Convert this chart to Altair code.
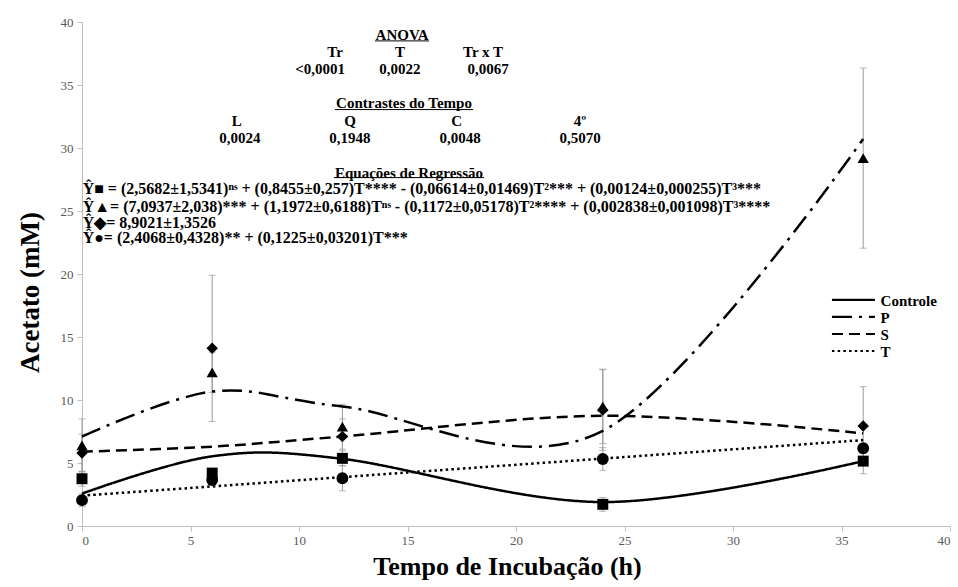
import altair as alt
import pandas as pd

# ---------------- data ----------------
times = [0, 6, 12, 24, 36]
series = ["Controle", "P", "S", "T"]
shapes = ["square", "triangle-up", "diamond", "circle"]

controle_mean = [3.75, 4.2, 5.37, 1.72, 5.15]
p_mean = [6.4, 12.2, 7.88, 9.5, 29.2]
s_mean = [5.8, 14.1, 7.1, 9.2, 7.94]
t_mean = [2.05, 3.65, 3.79, 5.32, 6.17]

controle_err = [0.6, 0.3, 0.6, 0.55, 1.0]
p_err = [2.1, 1.6, 1.78, 2.95, 7.15]
s_err = [1.5, 5.8, 1.4, 3.2, 3.12]
t_err = [0.5, 0.3, 1.0, 0.9, 0.4]

controle_fit = [2.57, 5.53, 5.33, 1.90, 5.15]
p_fit = [7.09, 10.67, 9.49, 7.55, 30.72]
s_fit = [5.9, 6.3, 7.1, 8.75, 7.35]
t_fit = [2.41, 3.14, 3.88, 5.35, 6.82]

section_titles = ["ANOVA", "Contrastes do Tempo", "Equações de Regressão"]
anova_headers = ["Tr", "T", "Tr x T"]
anova_values = ["<0,0001", "0,0022", "0,0067"]
contrast_headers = ["L", "Q", "C", "4º"]
contrast_values = ["0,0024", "0,1948", "0,0048", "0,5070"]
equations = [
    "Ŷ■ = (2,5682±1,5341)ⁿˢ + (0,8455±0,257)T**** - (0,06614±0,01469)T²*** + (0,00124±0,000255)T³***",
    "Ŷ▲=  (7,0937±2,038)*** + (1,1972±0,6188)Tⁿˢ - (0,1172±0,05178)T²**** + (0,002838±0,001098)T³****",
    "Ŷ◆=  8,9021±1,3526",
    "Ŷ●=  (2,4068±0,4328)** + (0,1225±0,03201)T***",
]

# ---------------- layout (annotation placement, in axis units) ----------------
title_x = [14.75, 14.84, 15.07]
title_y = [38.97, 33.6, 28.04]
underline_x1 = [13.5, 11.66, 11.61]
underline_x2 = [15.99, 18.02, 18.53]
underline_y = [38.5, 33.05, 27.65]
anova_hx = [11.66, 14.65, 18.48]
anova_vx = [10.97, 14.65, 18.71]
anova_y = [37.64, 36.25]
contrast_hx = [7.13, 12.35, 17.27, 22.95]
contrast_vx = [7.28, 12.35, 17.42, 22.95]
contrast_y = [32.14, 30.77]
eq_x = 0.03
eq_y = [26.72, 25.34, 24.07, 22.86]
leg_x1, leg_x2, leg_tx = 34.56, 36.54, 36.8
leg_y = [17.94, 16.59, 15.24, 13.89]

dashes = [[1, 0], [20, 7, 3, 7], [11, 6], [2.5, 3.2]]
FONT = "Liberation Serif"
TXT = 15
EQ_TXT = 16

means = [controle_mean, p_mean, s_mean, t_mean]
errs = [controle_err, p_err, s_err, t_err]
fits = [controle_fit, p_fit, s_fit, t_fit]

pts = []
fit_rows = []
for s, m, e, f in zip(series, means, errs, fits):
    for t, mv, ev, fv in zip(times, m, e, f):
        pts.append({"Tempo": t, "Serie": s, "Media": mv, "lo": mv - ev, "hi": mv + ev})
        fit_rows.append({"Tempo": t, "Serie": s, "Ajuste": fv})
pts = pd.DataFrame(pts)
fit_df = pd.DataFrame(fit_rows)

xs = alt.Scale(domain=[0, 40], nice=False)
ys = alt.Scale(domain=[0, 40], nice=False)
dash_scale = alt.Scale(domain=series, range=dashes)

x_axis = alt.Axis(values=list(range(0, 41, 5)), title="Tempo de Incubação (h)",
                  titleFontSize=26, titleX=425, titleY=40, titleBaseline="middle",
                  titleAlign="center", labelPadding=3, tickSize=5)
y_axis = alt.Axis(values=list(range(0, 41, 5)), title="Acetato (mM)",
                  titleFontSize=27, titleX=-52, titleY=270, titleBaseline="middle",
                  titleAlign="center", titleAngle=270, labelPadding=4, tickSize=5)

base_x = alt.X("Tempo:Q", scale=xs, axis=x_axis)

err_rule = alt.Chart(pts).mark_rule(color="#9a9a9a", strokeWidth=1).encode(
    x=base_x, y=alt.Y("lo:Q", scale=ys, axis=y_axis), y2="hi:Q")
cap_lo = alt.Chart(pts).mark_tick(color="#9a9a9a", orient="horizontal", size=7, thickness=1).encode(
    x=base_x, y=alt.Y("lo:Q", scale=ys))
cap_hi = alt.Chart(pts).mark_tick(color="#9a9a9a", orient="horizontal", size=7, thickness=1).encode(
    x=base_x, y=alt.Y("hi:Q", scale=ys))

lines = alt.Chart(fit_df).mark_line(interpolate="cardinal", color="black", strokeWidth=2.5).encode(
    x=base_x, y=alt.Y("Ajuste:Q", scale=ys),
    strokeDash=alt.StrokeDash("Serie:N", scale=dash_scale, legend=None),
    detail="Serie:N")

points = alt.Chart(pts).mark_point(filled=True, color="black", opacity=1).encode(
    x=base_x, y=alt.Y("Media:Q", scale=ys),
    shape=alt.Shape("Serie:N", scale=alt.Scale(domain=series, range=shapes), legend=None),
    size=alt.Size("Serie:N", scale=alt.Scale(domain=series, range=[120, 140, 110, 150]), legend=None))

# legend
leg_df = pd.DataFrame({"Serie": series, "x1": [leg_x1] * 4, "x2": [leg_x2] * 4,
                       "tx": [leg_tx] * 4, "y": leg_y})
leg_lines = alt.Chart(leg_df).mark_rule(color="black", strokeWidth=2.2).encode(
    x=alt.X("x1:Q", scale=xs), x2="x2:Q", y=alt.Y("y:Q", scale=ys),
    strokeDash=alt.StrokeDash("Serie:N", scale=dash_scale, legend=None))
leg_text = alt.Chart(leg_df).mark_text(align="left", baseline="middle", font=FONT,
                                       fontWeight="bold", fontSize=15, dy=1).encode(
    x=alt.X("tx:Q", scale=xs), y=alt.Y("y:Q", scale=ys), text="Serie:N")

# annotations
center_rows = []
for txt, xv, yv in zip(section_titles, title_x, title_y):
    center_rows.append({"x": xv, "y": yv, "t": txt})
for txt, xv in zip(anova_headers, anova_hx):
    center_rows.append({"x": xv, "y": anova_y[0], "t": txt})
for txt, xv in zip(anova_values, anova_vx):
    center_rows.append({"x": xv, "y": anova_y[1], "t": txt})
for txt, xv in zip(contrast_headers, contrast_hx):
    center_rows.append({"x": xv, "y": contrast_y[0], "t": txt})
for txt, xv in zip(contrast_values, contrast_vx):
    center_rows.append({"x": xv, "y": contrast_y[1], "t": txt})
center_df = pd.DataFrame(center_rows)
center_text = alt.Chart(center_df).mark_text(align="center", baseline="middle", font=FONT,
                                             fontWeight="bold", fontSize=TXT).encode(
    x=alt.X("x:Q", scale=xs), y=alt.Y("y:Q", scale=ys), text="t:N")

eq_df = pd.DataFrame({"x": [eq_x] * len(equations), "y": eq_y, "t": equations})
eq_text = alt.Chart(eq_df).mark_text(align="left", baseline="middle", font=FONT,
                                     fontWeight="bold", fontSize=EQ_TXT).encode(
    x=alt.X("x:Q", scale=xs), y=alt.Y("y:Q", scale=ys), text="t:N")

ul_df = pd.DataFrame({"x1": underline_x1, "x2": underline_x2, "y": underline_y})
underlines = alt.Chart(ul_df).mark_rule(color="black", strokeWidth=1).encode(
    x=alt.X("x1:Q", scale=xs), x2="x2:Q", y=alt.Y("y:Q", scale=ys))

chart = alt.layer(
    err_rule, cap_lo, cap_hi, lines, points, leg_lines, leg_text,
    center_text, eq_text, underlines
).properties(
    width=868, height=504,
    padding={"left": 82, "top": 22, "right": 8, "bottom": 61},
    autosize=alt.AutoSizeParams(type="none"),
    background="white",
).configure_view(stroke=None).configure_axis(
    grid=False, domainColor="#bfbfbf", tickColor="#bfbfbf",
    labelFont=FONT, labelFontSize=13, labelColor="#595959",
    titleFont=FONT, titleFontWeight="bold", titleColor="black",
)

chart.save("out.html", embed_options={"renderer": "svg", "actions": False})
